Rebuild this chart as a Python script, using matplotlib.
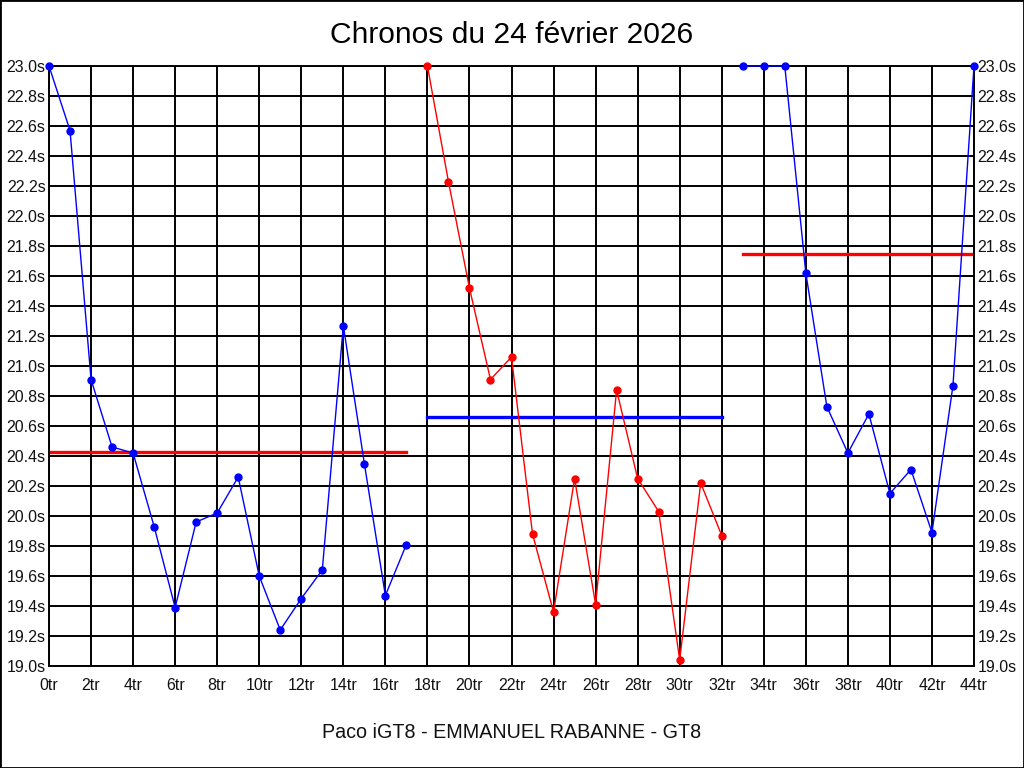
import matplotlib
matplotlib.use("Agg")
import matplotlib.pyplot as plt
from matplotlib.patches import Rectangle

plt.rcParams['font.family'] = ['Liberation Sans', 'DejaVu Sans']

title = "Chronos du 24 février 2026"
xlabel = "Paco iGT8 - EMMANUEL RABANNE - GT8"

laps1 = list(range(0, 18))
times1 = [23.0, 22.57, 20.91, 20.46, 20.42, 19.93, 19.39, 19.96, 20.02, 20.26,
          19.60, 19.24, 19.45, 19.64, 21.27, 20.35, 19.47, 19.81]
mean1 = 20.43

laps2 = list(range(18, 33))
times2 = [23.0, 22.23, 21.52, 20.91, 21.06, 19.88, 19.36, 20.25, 19.41, 20.84,
          20.25, 20.03, 19.04, 20.22, 19.87]
mean2 = 20.66

laps3 = list(range(33, 45))
times3 = [23.0, 23.0, 23.0, 21.62, 20.73, 20.42, 20.68, 20.15, 20.31, 19.89, 20.87, 23.0]
mean3 = 21.75

xticks = list(range(0, 45, 2))
xticklabels = [f"{v}tr" for v in xticks]
yticks = [19.0 + 0.2 * i for i in range(21)]
yticklabels = [f"{v:.1f}s" for v in yticks]

fig = plt.figure(figsize=(10.24, 7.68), dpi=100)
fig.patches.append(Rectangle((0, 0), 1, 1, transform=fig.transFigure, fill=False,
                             edgecolor='black', linewidth=2, zorder=10))
ax = fig.add_axes([49/1024, 1 - 666/768, (974-49)/1024, (666-66)/768])

ax.set_xlim(0, 44)
ax.set_ylim(19.0, 23.0)
ax.set_xticks(xticks)
ax.set_xticklabels(xticklabels)
ax.set_yticks(yticks)
ax.set_yticklabels(yticklabels)
ax.grid(True, color='black', linewidth=1.4)
ax.set_axisbelow(True)
ax.tick_params(axis='both', length=0, labelsize=11.5, colors='#111111')
ax.tick_params(axis='x', pad=9)
ax.tick_params(axis='y', left=True, right=True, labelleft=True, labelright=True, pad=2.5)
for s in ax.spines.values():
    s.set_color('black')
    s.set_linewidth(1.4)

ax.plot(laps1, times1, color='#0000ff', linewidth=1.0, marker='o', markersize=5, zorder=3, clip_on=False)
ax.plot([laps1[0], laps1[-1]], [mean1, mean1], color='#ff0000', linewidth=2.4, zorder=2)
ax.plot(laps2, times2, color='#ff0000', linewidth=1.0, marker='o', markersize=5, zorder=3, clip_on=False)
ax.plot([laps2[0], laps2[-1]], [mean2, mean2], color='#0000ff', linewidth=2.4, zorder=2)
ax.plot(laps3, times3, color='#0000ff', linewidth=1.0, marker='o', markersize=5, zorder=3, clip_on=False)
ax.plot([laps3[0], laps3[-1]], [mean3, mean3], color='#ff0000', linewidth=2.4, zorder=2)

fig.text(0.5, 1 - 35/768, title, ha='center', va='center', fontsize=21.6, color='black')
fig.text(0.5, 1 - 733/768, xlabel, ha='center', va='center', fontsize=14.2, color='#111111')

fig.savefig("out.png", dpi=100)
